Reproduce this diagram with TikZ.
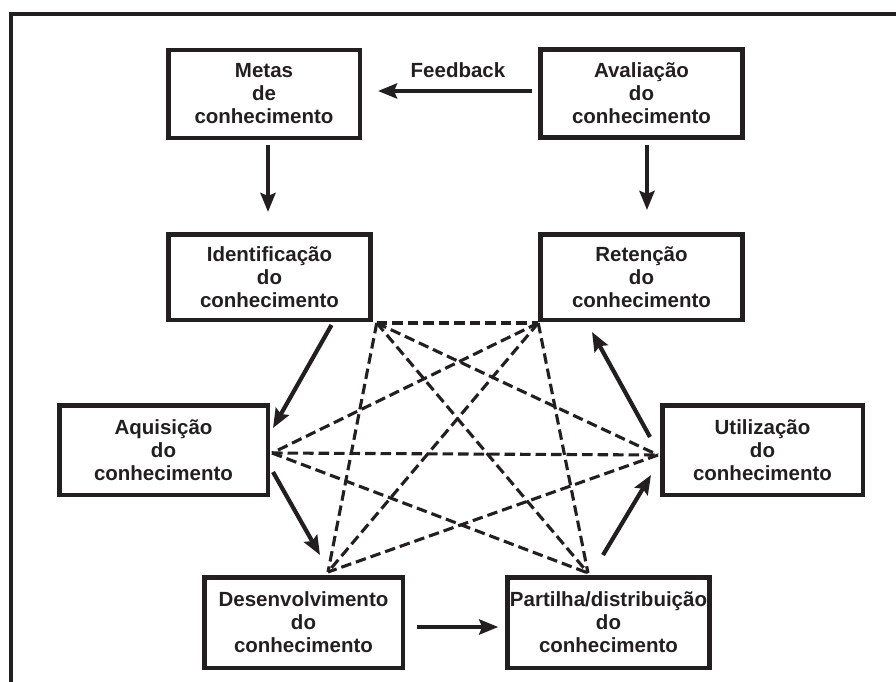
\documentclass[tikz,border=0pt]{standalone}
\usepackage{fontspec}
\setmainfont{Liberation Sans}
\usetikzlibrary{arrows.meta}
\definecolor{ink}{HTML}{231F20}
\begin{document}
\begin{tikzpicture}[x=1pt,y=-1pt,
  box/.style={draw=ink, line width=4.5pt, rectangle, align=center, text=ink,
    font=\fontsize{20.5}{23}\selectfont\bfseries, inner sep=0pt,
    minimum width=202pt, minimum height=88pt},
  flow/.style={draw=ink, line width=4.2pt, -{Stealth[length=19pt,width=15pt,inset=3pt]}},
  link/.style={draw=ink, line width=3.1pt, dash pattern=on 10.5pt off 5pt}
]
\useasboundingbox (0,0) rectangle (896,682);
% frame
\draw[ink, line width=4pt] (896,14) -- (11,14) -- (11,682);

% stages of the knowledge cycle
\node[box, minimum width=191.5pt] (metas)  at (264,94)    {Metas\\de\\conhecimento};
\node[box] (aval)   at (641.5,93.5)  {Avaliação\\do\\conhecimento};
\node[box, minimum height=85.5pt] (ident)  at (269.5,277)  {Identificação\\do\\conhecimento};
\node[box, minimum height=85.5pt] (reten)  at (641.5,277)  {Retenção\\do\\conhecimento};
\node[box, minimum width=208.5pt, minimum height=89.5pt] (aquis)  at (163.5,450) {Aquisição\\do\\conhecimento};
\node[box, minimum width=200.5pt, minimum height=89.5pt] (util)   at (762.5,450) {Utilização\\do\\conhecimento};
\node[box, minimum width=198.5pt, minimum height=90.5pt] (desenv) at (303.5,622.5) {Desenvolvimento\\do\\conhecimento};
\node[box, minimum height=90.5pt] (partil) at (608.5,622.5) {Partilha/distribuição\\do\\conhecimento};

\node[text=ink, font=\fontsize{20.5}{23}\selectfont\bfseries] (fb) at (458,70) {Feedback};

% solid flow arrows
\draw[flow, shorten <=6pt, shorten >=16pt] ([shift={(0,-2.5)}]aval.west) -- ([shift={(0,-3)}]metas.east);
\draw[flow] ([shift={(4,5)}]metas.south) -- ([shift={(-1.5,-20)}]ident.north);
\draw[flow] ([shift={(5.5,5)}]aval.south) -- ([shift={(5.5,-22)}]reten.north);
\draw[flow] ([shift={(62,3)}]ident.south) -- ([shift={(3,25)}]aquis.north east);
\draw[flow] ([shift={(3,22)}]aquis.east) -- ([shift={(16.5,-20)}]desenv.north);
\draw[flow] ([shift={(12,4.5)}]desenv.east) -- ([shift={(-7,4.5)}]partil.west);
\draw[flow] ([shift={(-5.5,-20)}]partil.north) -- ([shift={(-9,-22)}]util.south west);
\draw[flow] ([shift={(-10,-13)}]util.west) -- ([shift={(-49.5,10)}]reten.south);

% dashed links between stages
\coordinate (dtop) at ([shift={(24.5,-3)}]desenv.north);
\coordinate (ptop) at ([shift={(-20.5,-2)}]partil.north);
\coordinate (aright) at ([shift={(2,3)}]aquis.east);
\coordinate (uleft) at ([shift={(-2,5)}]util.west);
\coordinate (ibr) at ([shift={(4,1)}]ident.south east);
\coordinate (rbl) at ([shift={(0,1)}]reten.south west);
\draw[link] (ibr) -- (rbl);
\draw[link] (ibr) -- (uleft);
\draw[link] (ibr) -- (dtop);
\draw[link] (ibr) -- (ptop);
\draw[link] (rbl) -- (aright);
\draw[link] (rbl) -- (dtop);
\draw[link] (rbl) -- (ptop);
\draw[link] (aright) -- (uleft);
\draw[link] (aright) -- (ptop);
\draw[link] (uleft) -- (dtop);
\end{tikzpicture}
\end{document}
